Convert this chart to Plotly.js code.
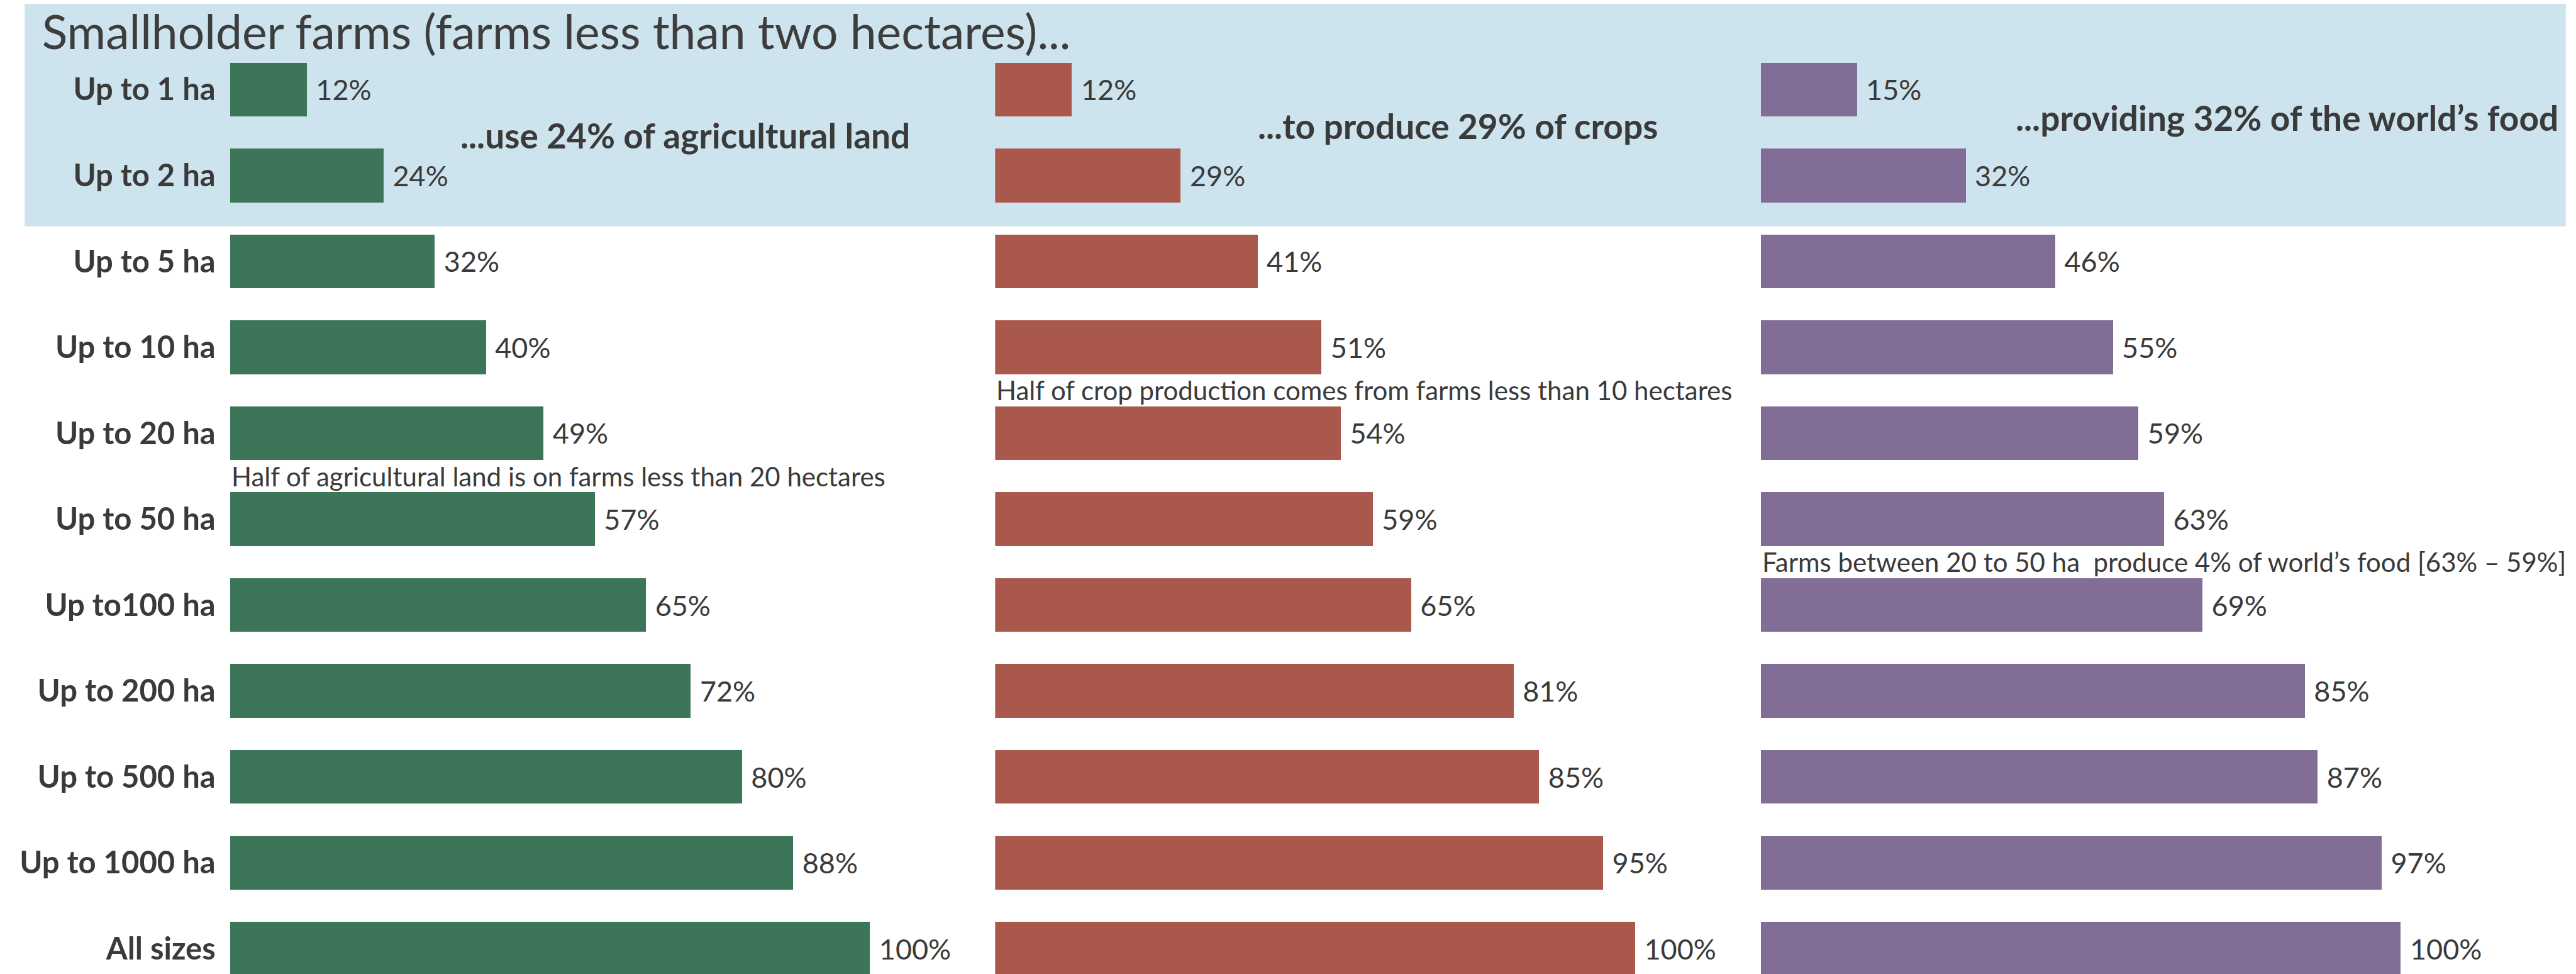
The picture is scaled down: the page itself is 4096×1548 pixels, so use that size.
<!DOCTYPE html>
<html>
<head>
<meta charset="utf-8">
<script src="https://cdn.plot.ly/plotly-3.0.1.min.js"></script>
<style>
  html, body { margin: 0; padding: 0; background: #ffffff; }
  #chart { width: 4096px; height: 1548px; }
</style>
</head>
<body>
<div id="chart"></div>
<script>
// Farm size classes, smallest first
const categories = ['Up to 1 ha', 'Up to 2 ha', 'Up to 5 ha', 'Up to 10 ha', 'Up to 20 ha',
  'Up to 50 ha', 'Up to100 ha', 'Up to 200 ha', 'Up to 500 ha', 'Up to 1000 ha', 'All sizes'];

// Cumulative shares (%) by farm size
const landShare = [12, 24, 32, 40, 49, 57, 65, 72, 80, 88, 100];
const cropShare = [12, 29, 41, 51, 54, 59, 65, 81, 85, 95, 100];
const foodShare = [15, 32, 46, 55, 59, 63, 69, 85, 87, 97, 100];

const titleText = 'Smallholder farms (farms less than two hectares)...';
const headlines = ['...use 24% of agricultural land', '...to produce 29% of crops',
  '...providing 32% of the world\u2019s food'];
const notes = ['Half of agricultural land is on farms less than 20 hectares',
  'Half of crop production comes from farms less than 10 hectares',
  'Farms between 20 to 50 ha\u00a0 produce 4% of world\u2019s food [63% \u2013 59%]'];

const colors = ['#3D7558', '#AB584C', '#826D97'];
const textColor = '#3a3a3a';
const FONT = 'Lato, "Open Sans", sans-serif';

const W = 4096, H = 1548;

const series = [landShare, cropShare, foodShare];
const traces = series.map((vals, i) => ({
  type: 'bar',
  orientation: 'h',
  x: vals,
  y: categories,
  xaxis: i === 0 ? 'x' : 'x' + (i + 1),
  yaxis: i === 0 ? 'y' : 'y' + (i + 1),
  width: 0.626,
  marker: { color: colors[i], line: { width: 0 } },
  texttemplate: '\u00a0%{x}%',
  textposition: 'outside',
  constraintext: 'none',
  cliponaxis: false,
  textfont: { family: FONT, size: 45, color: textColor },
  hoverinfo: 'skip',
  showlegend: false
}));

// column layout: bar base position and usable width (fractions of the page)
const colStart = [428, 1852, 3277].map(v => v / 4794);
const colWidth = 1300 / 4794;
const xMax = 1300 / 11.91;

// rows: first row centre and row pitch (page units of 1812)
const row0 = 166.5, pitch = 159.85;
const yTopPx = row0 - pitch / 2;
const yRange = [(1812 - row0) / pitch, -0.5];
const yTop = 1 - yTopPx / 1812;

const layout = {
  width: W, height: H,
  margin: { l: 0, r: 0, t: 0, b: 0, pad: 0 },
  paper_bgcolor: '#ffffff',
  plot_bgcolor: 'rgba(0,0,0,0)',
  font: { family: FONT, color: textColor },
  bargap: 0,
  title: {
    text: titleText,
    x: 78 / 4794, xref: 'paper', xanchor: 'left',
    y: 1 - 61 / 1812, yref: 'paper', yanchor: 'middle',
    font: { family: FONT, size: 75, color: '#3d3d3d' }
  },
  shapes: [{
    type: 'rect', xref: 'paper', yref: 'paper', layer: 'below',
    x0: 46 / 4794, x1: 4775 / 4794, y0: 1 - 421 / 1812, y1: 1 - 7 / 1812,
    fillcolor: '#CDE3ED', line: { width: 0 }
  }],
  annotations: []
};

const headlinePos = [[35.85, 0.535], [40.8, 0.42], [39.6, 0.33]];
const notePos = [4.5, 3.5, 5.5];

for (let i = 0; i < 3; i++) {
  const xa = i === 0 ? 'xaxis' : 'xaxis' + (i + 1);
  const ya = i === 0 ? 'yaxis' : 'yaxis' + (i + 1);
  const xr = i === 0 ? 'x' : 'x' + (i + 1);
  const yr = i === 0 ? 'y' : 'y' + (i + 1);
  layout[xa] = {
    domain: [colStart[i], colStart[i] + colWidth],
    range: [0, xMax],
    anchor: yr,
    showgrid: false, zeroline: false, showline: false,
    showticklabels: false, ticks: '', fixedrange: true
  };
  layout[ya] = {
    domain: [0, yTop],
    type: 'category',
    range: yRange,
    anchor: xr,
    showgrid: false, zeroline: false, showline: false,
    ticks: '',
    showticklabels: i === 0,
    ticklabelstandoff: 22,
    tickfont: { family: FONT, size: 49, color: textColor, weight: 'bold' },
    fixedrange: true
  };
  layout.annotations.push({
    xref: xr, yref: yr, x: headlinePos[i][0], y: headlinePos[i][1],
    xanchor: 'left', yanchor: 'middle', showarrow: false,
    text: '<b>' + headlines[i] + '</b>',
    font: { family: FONT, size: 55, color: textColor }
  });
  layout.annotations.push({
    xref: xr, yref: yr, x: 0, y: notePos[i],
    xanchor: 'left', yanchor: 'middle', showarrow: false,
    text: notes[i],
    font: { family: FONT, size: 42, color: textColor }
  });
}

Plotly.newPlot('chart', traces, layout, { staticPlot: true, displayModeBar: false });
</script>
</body>
</html>
